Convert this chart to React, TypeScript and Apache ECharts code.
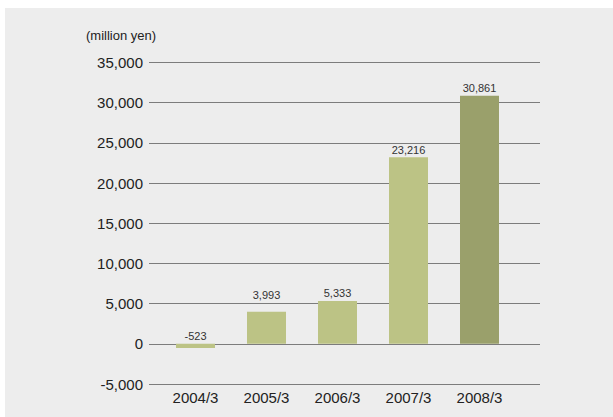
import React, { useEffect, useRef } from "react";
import * as echarts from "echarts";

const categories = ["2004/3", "2005/3", "2006/3", "2007/3", "2008/3"];
const values = [-523, 3993, 5333, 23216, 30861];
const barColors = ["#bcc385", "#bcc385", "#bcc385", "#bcc385", "#9aa06b"];
const labelDistances = [2, 11, 2, 2, 2];
const yMin = -5000;
const yMax = 35000;
const yInterval = 5000;
const unitLabel = "(million yen)";

const FONT = '"Liberation Sans", Arial, Helvetica, sans-serif';

export default function App() {
  const ref = useRef<HTMLDivElement>(null);
  useEffect(() => {
    if (!ref.current) return;
    const chart = echarts.init(ref.current, undefined, { renderer: "svg" });
    const fmt = (v: number) => v.toLocaleString("en-US");
    chart.setOption({
      animation: false,
      backgroundColor: "transparent",
      graphic: [
        {
          type: "rect",
          z: -10,
          shape: { x: 5, y: 8, width: 608, height: 409 },
          style: { fill: "#ededed" },
          silent: true,
        },
        {
          type: "text",
          x: 86,
          y: 35,
          style: {
            text: unitLabel,
            font: `13px ${FONT}`,
            fill: "#222",
            textVerticalAlign: "middle",
          },
        },
      ],
      grid: [
        { left: 149, right: 73, top: 62.5, bottom: 33 },
        { left: 160, right: 98, top: 62.5, bottom: 33 },
      ],
      xAxis: [
        { type: "category", gridIndex: 0, data: categories, show: false },
        {
          type: "category",
          gridIndex: 1,
          data: categories,
          axisLine: { show: false },
          axisTick: { show: false },
          axisLabel: {
            color: "#222",
            fontSize: 15,
            fontFamily: FONT,
            margin: 6,
          },
        },
      ],
      yAxis: [
        {
          type: "value",
          gridIndex: 0,
          min: yMin,
          max: yMax,
          interval: yInterval,
          axisLine: { show: false },
          axisTick: { show: false },
          axisLabel: {
            color: "#222",
            fontSize: 15,
            fontFamily: FONT,
            margin: 6,
            formatter: (v: number) => fmt(v),
          },
          splitLine: { lineStyle: { color: "#7c7c7c", width: 1 } },
        },
        {
          type: "value",
          gridIndex: 1,
          min: yMin,
          max: yMax,
          interval: yInterval,
          show: false,
          splitLine: { show: false },
        },
      ],
      series: [
        {
          type: "bar",
          xAxisIndex: 1,
          yAxisIndex: 1,
          barWidth: 39,
          data: values.map((v, i) => ({
            value: v,
            itemStyle: { color: barColors[i] },
            label: { distance: labelDistances[i] },
          })),
          label: {
            show: true,
            position: "top",
            color: "#333",
            fontSize: 11,
            fontFamily: FONT,
            formatter: (p: any) => fmt(p.value),
          },
        },
      ],
    });
    return () => chart.dispose();
  }, []);
  return (
    <div
      ref={ref}
      style={{ position: "fixed", left: 0, top: 0, width: 613, height: 417, background: "#fff" }}
    />
  );
}
